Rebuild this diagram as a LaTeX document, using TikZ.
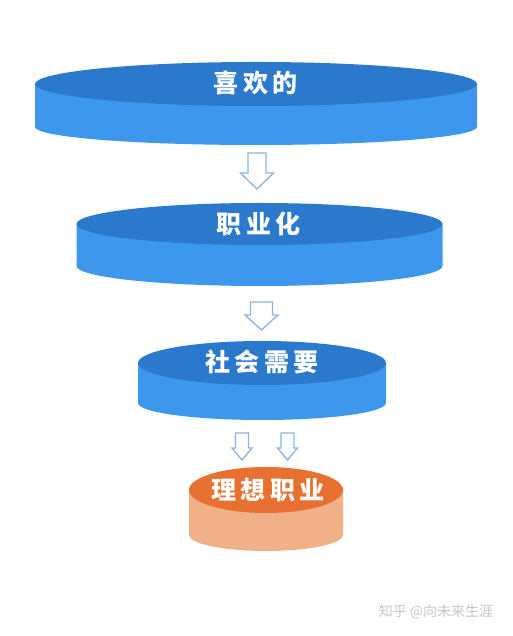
\documentclass[tikz,border=0pt]{standalone}
\usepackage{fontspec}
\newfontfamily\cjk[LetterSpace=18]{Noto Sans CJK SC}
\newfontfamily\cjkmark{Noto Sans CJK SC}
\usepackage{tikz}
\definecolor{sideblue}{RGB}{61,151,236}
\definecolor{topblue}{RGB}{43,121,204}
\definecolor{sideorange}{RGB}{240,176,136}
\definecolor{toporange}{RGB}{232,112,48}
\definecolor{arrowline}{RGB}{141,179,221}

\begin{document}
\begin{tikzpicture}[x=1pt,y=1pt,
  label/.style={text=white,inner sep=0pt,font=\cjk\bfseries\fontsize{25}{25}\selectfont},
  hollow/.style={draw=arrowline,fill=white,line width=1.3pt,line join=miter}]
\useasboundingbox (0,0) rectangle (512,636);
\fill [white] (0,0) rectangle (512,636);
\fill [sideblue] (35,552) -- (35,509) arc [start angle=180,end angle=360,x radius=221pt,y radius=18pt]
  -- (477,552) -- cycle;
\fill [topblue] (256,552) ellipse [x radius=221pt,y radius=22pt];
\node [label] (likes) at (255.5,553) {喜欢的};
\draw [hollow] (248,483) -- (266,483) -- (266,463) -- (273.5,463) -- (257,447)
  -- (240.5,463) -- (248,463) -- cycle;
\fill [sideblue] (76.5,412) -- (76.5,370) arc [start angle=180,end angle=360,x radius=183pt,y radius=20pt]
  -- (442.5,412) -- cycle;
\fill [topblue] (259.5,412) ellipse [x radius=183pt,y radius=21pt];
\node [label] (career) at (258.5,412) {职业化};
\draw [hollow] (250.5,334) -- (272.5,334) -- (272.5,321) -- (278,321) -- (261.5,306)
  -- (245,321) -- (250.5,321) -- cycle;
\fill [sideblue] (138,273) -- (138,233) arc [start angle=180,end angle=360,x radius=124pt,y radius=17pt]
  -- (386,273) -- cycle;
\fill [topblue] (262,273) ellipse [x radius=124pt,y radius=22pt];
\node [label] (society) at (262,274) {社会需要};
\draw [hollow] (235.5,203) -- (248.5,203) -- (248.5,188) -- (252,188) -- (242,176)
  -- (232,188) -- (235.5,188) -- cycle;
\draw [hollow] (281,203) -- (294,203) -- (294,188) -- (297.5,188) -- (287.5,176)
  -- (277.5,188) -- (281,188) -- cycle;
\fill [sideorange] (189,146) -- (189,101) arc [start angle=180,end angle=360,x radius=77pt,y radius=16pt]
  -- (343,146) -- cycle;
\fill [toporange] (266,146) ellipse [x radius=77pt,y radius=23pt];
\node [label] (ideal) at (268,146) {理想职业};
\node [text=black!22,inner sep=0pt,font=\cjkmark\fontsize{14}{14}\selectfont] (mark) at (436,24) {知乎 @向未来生涯};
\end{tikzpicture}
\end{document}
